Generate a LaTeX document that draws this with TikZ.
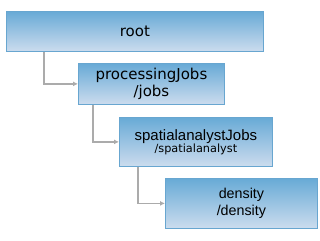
\documentclass[tikz,border=0pt]{standalone}
\usepackage{fontspec}
\setmainfont{DejaVu Sans}
\newfontfamily\arialfont{Liberation Sans}
\usetikzlibrary{arrows.meta}
\definecolor{boxtop}{HTML}{68AAD6}
\definecolor{boxbottom}{HTML}{CCDCEE}
\definecolor{boxedge}{HTML}{68A6D0}
\definecolor{linkgray}{HTML}{ABABAB}
\tikzset{
  box/.style={rectangle,draw=boxedge,line width=0.8pt,top color=boxtop,bottom color=boxbottom,
    anchor=north west,align=center,inner sep=0pt,text=black},
  line/.style={draw=linkgray,line width=1.8pt,-{Latex[length=5pt,width=5pt]}}
}
\begin{document}
\begin{tikzpicture}[x=1pt,y=-1pt]
\useasboundingbox (0,0) rectangle (320,240);
\node[box, minimum width=257pt, minimum height=40pt, font=\fontsize{15}{17}\selectfont] (root) at (6,11) {root};
\node[box, minimum width=146pt, minimum height=41pt, font=\fontsize{15}{16.5}\selectfont] (proc) at (78,63) {processingJobs\\/jobs};
\node[box, minimum width=153pt, minimum height=49pt] (spatial) at (119,117)
  {{\arialfont\fontsize{15}{16}\selectfont spatialanalystJobs}\\{\fontsize{11.3}{15}\selectfont /spatialanalyst}};
\node[box, minimum width=152pt, minimum height=50pt, font=\arialfont\fontsize{14.3}{17}\selectfont] (dens) at (165,178) {density\\/density};
\draw[line] ([xshift=38pt]root.south west) |- (proc.west);
\draw[line] ([xshift=15pt]proc.south west) |- (spatial.west);
\draw[line] ([xshift=19pt]spatial.south west) |- (dens.west);
\end{tikzpicture}
\end{document}
